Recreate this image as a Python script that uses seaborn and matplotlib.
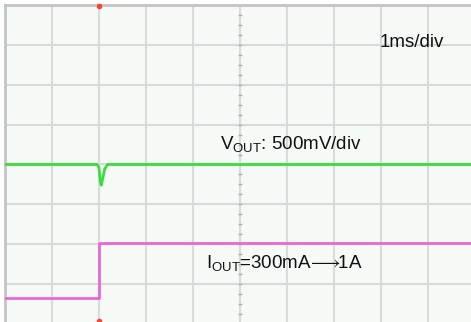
import numpy as np
import pandas as pd
import matplotlib
matplotlib.use("Agg")
import matplotlib.pyplot as plt
import seaborn as sns

# ---- data (time in ms relative to screen centre, amplitude in divisions) ----
vout_t = [-5.0, -3.04, -3.0, -2.97, -2.95, -2.92, -2.88, -2.82, 4.94]
vout_v = [0.0, 0.0, -0.08, -0.45, -0.52, -0.35, -0.12, 0.0, 0.0]
iout_t = [-5.0, -3.0, -3.0, 4.94]
iout_v = [-3.35, -3.35, -1.98, -1.98]
label_time = "1ms/div"
label_vout = r"V$_{\mathrm{OUT}}$: 500mV/div"
label_iout = r"I$_{\mathrm{OUT}}$=300mA$\!\longrightarrow\!\!$1A"

sns.set_style("white")
plt.rcParams["font.family"] = ["Liberation Sans", "DejaVu Sans"]
plt.rcParams["mathtext.fontset"] = "custom"
plt.rcParams["mathtext.rm"] = "Liberation Sans"
plt.rcParams["mathtext.it"] = "Liberation Sans"
plt.rcParams["mathtext.fallback"] = "stixsans"

fig = plt.figure(figsize=(4.71, 3.22), dpi=100)
fig.patch.set_facecolor("white")
ax = fig.add_axes([5 / 471, 0, 466 / 471, 317 / 322])
ax.set_facecolor("#f6faf7")

xmin, xmax = -5.0, 4.915
ymin, ymax = -3.95, 4.0
ax.set_xlim(xmin, xmax)
ax.set_ylim(ymin, ymax)

# graticule
grid_c = "#dadada"
for gx in range(-4, 5):
    ax.axvline(gx, color=grid_c, lw=1.5, zorder=1)
for gy in range(-3, 4):
    ax.axhline(gy, color=grid_c, lw=1.5, zorder=1)
# minor ticks along the vertical centre line
mt_y = np.arange(-3.75, 4.0, 0.25)
ax.plot(np.zeros_like(mt_y), mt_y, ls="none", marker="_", ms=3, mew=1,
        color="#b0b0b0", zorder=1)

df_v = pd.DataFrame({"t": vout_t, "v": vout_v})
df_i = pd.DataFrame({"t": iout_t, "v": iout_v})
sns.lineplot(data=df_v, x="t", y="v", ax=ax, color="#3ddc3d", lw=2.0,
             sort=False, estimator=None, zorder=3)
sns.lineplot(data=df_i, x="t", y="v", ax=ax, color="#e868d8", lw=2.0,
             sort=False, estimator=None, zorder=3)

# trigger markers
ax.plot([-3.0], [ymax - 0.02], marker="o", ms=3, color="#ff4030",
        clip_on=False, zorder=5)
ax.plot([-3.0], [ymin + 0.03], marker="o", ms=3, color="#ff4030",
        clip_on=False, zorder=5)

fs = 13.5
ax.text(2.98, 3.05, label_time, fontsize=fs, va="center", ha="left",
        color="#111111")
ax.text(-0.42, 0.40, label_vout, fontsize=fs, va="baseline", ha="left",
        color="#111111")
ax.text(-0.72, -2.6, label_iout, fontsize=fs, va="baseline", ha="left",
        color="#111111")

ax.set_xticks([])
ax.set_yticks([])
ax.set_xlabel("")
ax.set_ylabel("")
for s in ["right", "bottom"]:
    ax.spines[s].set_visible(False)
for s in ["top", "left"]:
    ax.spines[s].set_color("#c4c4c4")
    ax.spines[s].set_linewidth(2.0)

fig.savefig("out.png", dpi=100, facecolor="white")
